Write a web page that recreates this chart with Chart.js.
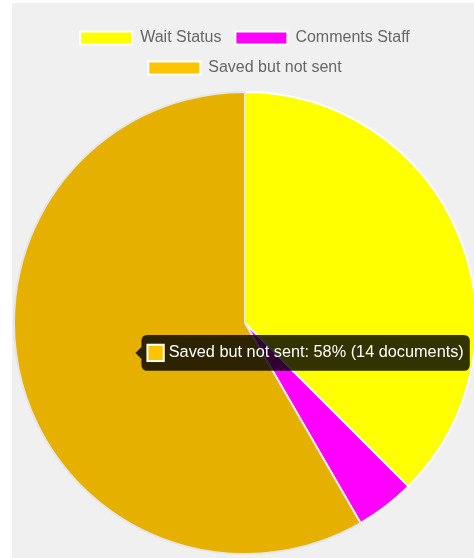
<!DOCTYPE html>
<html>
<head>
<meta charset="utf-8">
<script src="https://cdn.jsdelivr.net/npm/chart.js@4.4.1/dist/chart.umd.min.js"></script>
<style>
  html, body { margin: 0; padding: 0; background: #fff; overflow: hidden; width: 474px; height: 558px; }
  #wrap { position: absolute; left: 12px; top: 3px; width: 466px; height: 556px; background: #f0f0f0; }
</style>
</head>
<body>
<div id="wrap"><canvas id="statusPie" width="466" height="556"></canvas></div>
<script>
var categories = ["Wait Status", "Comments Staff", "Saved but not sent"];
var documentCounts = [9, 1, 14];
var sliceColors = ["#FFFF00", "#FF00FF", "#FFC400"];

// push the pie down a bit below the legend
var legendGap = {
  id: "legendGap",
  beforeInit: function (chart) {
    var fit = chart.legend.fit;
    chart.legend.fit = function () {
      fit.bind(chart.legend)();
      this.height += 5;
    };
  }
};

var config = {
  type: "pie",
  data: {
    labels: categories,
    datasets: [{
      data: documentCounts,
      backgroundColor: sliceColors,
      borderColor: "#fff",
      borderWidth: 2,
      hoverOffset: 0
    }]
  },
  options: {
    responsive: false,
    animation: false,
    layout: { padding: { top: 13, bottom: 4 } },
    plugins: {
      legend: {
        position: "top",
        labels: {
          boxWidth: 52,
          boxHeight: 13,
          padding: 14,
          color: "#666",
          font: { family: "'Liberation Sans', Arial, sans-serif", size: 16 }
        }
      },
      tooltip: {
        backgroundColor: "rgba(0,0,0,0.8)",
        bodyColor: "#fff",
        bodyFont: { family: "'Liberation Sans', Arial, sans-serif", size: 16.3 },
        padding: { top: 8, bottom: 8, left: 6, right: 6 },
        caretSize: 6,
        cornerRadius: 6,
        boxPadding: 3,
        callbacks: {
          title: function () { return ""; },
          label: function (ctx) {
            var total = ctx.dataset.data.reduce(function (a, b) { return a + b; }, 0);
            var pct = Math.round(ctx.parsed / total * 100);
            return ctx.label + ": " + pct + "% (" + ctx.parsed + " documents)";
          }
        }
      }
    }
  },
  plugins: [legendGap]
};

var chart = new Chart(document.getElementById("statusPie"), config);
var active = [{ datasetIndex: 0, index: 2 }];
chart.setActiveElements(active);
chart.tooltip.setActiveElements(active, { x: 120, y: 350 });
chart.update();
</script>
</body>
</html>
